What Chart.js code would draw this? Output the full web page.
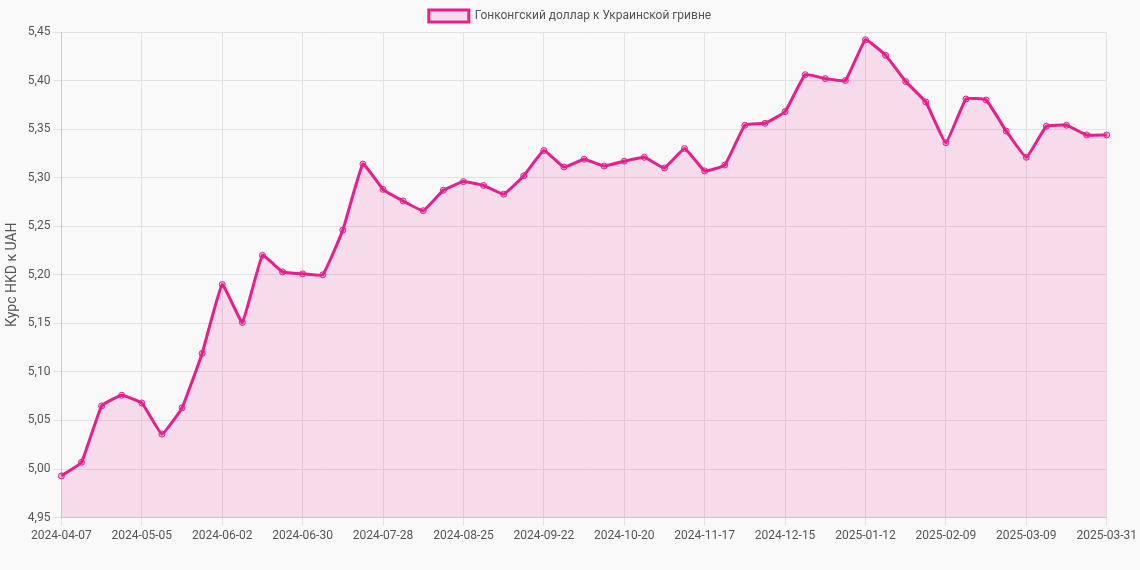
<!DOCTYPE html>
<html>
<head>
<meta charset="utf-8">
<script src="https://cdn.jsdelivr.net/npm/chart.js@4"></script>
<style>
  body { margin: 0; background: #f9f9f9; }
  #wrap { width: 1140px; height: 570px; }
</style>
</head>
<body>
<div id="wrap"><canvas id="myChart"></canvas></div>
<script>
const labels = [
  '2024-04-07','2024-04-14','2024-04-21','2024-04-28','2024-05-05','2024-05-12','2024-05-19','2024-05-26',
  '2024-06-02','2024-06-09','2024-06-16','2024-06-23','2024-06-30','2024-07-07','2024-07-14','2024-07-21',
  '2024-07-28','2024-08-04','2024-08-11','2024-08-18','2024-08-25','2024-09-01','2024-09-08','2024-09-15',
  '2024-09-22','2024-09-29','2024-10-06','2024-10-13','2024-10-20','2024-10-27','2024-11-03','2024-11-10',
  '2024-11-17','2024-11-24','2024-12-01','2024-12-08','2024-12-15','2024-12-22','2024-12-29','2025-01-05',
  '2025-01-12','2025-01-19','2025-01-26','2025-02-02','2025-02-09','2025-02-16','2025-02-23','2025-03-02',
  '2025-03-09','2025-03-16','2025-03-23','2025-03-30','2025-03-31'
];
const rates = [
  4.993,5.007,5.065,5.076,5.068,5.036,5.063,5.119,
  5.190,5.151,5.220,5.203,5.201,5.200,5.246,5.314,
  5.288,5.276,5.266,5.287,5.296,5.292,5.283,5.302,
  5.328,5.311,5.319,5.312,5.317,5.321,5.310,5.330,
  5.307,5.313,5.354,5.356,5.368,5.406,5.402,5.400,
  5.442,5.426,5.399,5.378,5.336,5.381,5.380,5.348,
  5.321,5.353,5.354,5.344,5.344
];

new Chart(document.getElementById('myChart').getContext('2d'), {
  type: 'line',
  data: {
    labels: labels,
    datasets: [{
      label: 'Гонконгский доллар к Украинской гривне',
      data: rates,
      borderColor: '#e91e8c',
      backgroundColor: 'rgba(233, 30, 140, 0.13)',
      borderWidth: 3,
      fill: true,
      tension: 0.1,
      pointRadius: 3,
      pointBorderWidth: 1,
      pointBackgroundColor: 'rgba(233, 30, 140, 0.3)',
      pointBorderColor: '#e91e8c'
    }]
  },
  options: {
    responsive: true,
    maintainAspectRatio: false,
    animation: false,
    layout: { padding: { bottom: 24 } },
    plugins: {
      legend: {
        labels: { font: { family: 'Roboto', size: 12 }, color: '#555', boxWidth: 40 }
      }
    },
    scales: {
      x: {
        ticks: { maxRotation: 0, font: { family: 'Roboto', size: 12 }, color: '#555' },
        grid: { color: '#e2e2e2' }
      },
      y: {
        min: 4.95,
        max: 5.45,
        title: { display: true, text: 'Курс HKD к UAH', font: { family: 'Roboto', size: 14 }, color: '#555' },
        ticks: {
          stepSize: 0.05,
          font: { family: 'Roboto', size: 12 }, color: '#555',
          callback: v => v.toFixed(2).replace('.', ',')
        },
        grid: { color: '#e2e2e2' }
      }
    }
  }
});
</script>
</body>
</html>
